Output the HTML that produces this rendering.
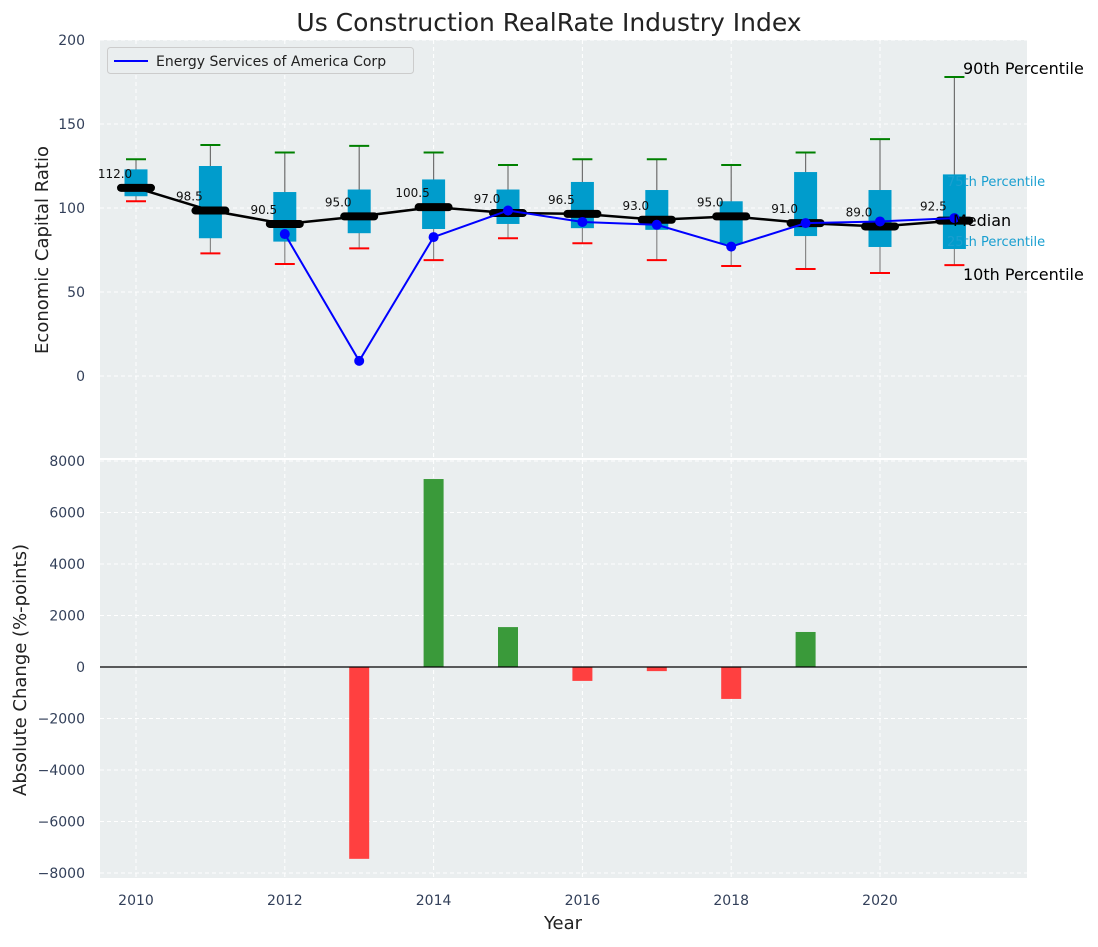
<!DOCTYPE html>
<html><head><meta charset="utf-8"><style>
body{margin:0;background:#fff;font-family:"Liberation Sans","DejaVu Sans",sans-serif}
svg text{font-family:"DejaVu Sans","Liberation Sans",sans-serif}
</style></head><body>
<svg id="c" width="1098" height="942" xmlns="http://www.w3.org/2000/svg"></svg>
<script>
const years=[2010,2011,2012,2013,2014,2015,2016,2017,2018,2019,2020,2021];
const p10=[104,73,66.7,76,69,82,79,69,65.5,63.7,61.3,66];
const q1=[107,82,80,85,87.5,90.5,88,87,78.6,83.3,76.8,75.6];
const med=[112,98.5,90.5,95,100.5,97,96.5,93,95,91,89,92.5];
const q3=[123,125,109.5,111,117,111,115.5,110.7,104,121.4,110.7,120];
const p90=[129,137.5,133,137,133,125.6,129,129,125.6,133,141,178];
const company=[null,null,84.5,9,82.7,98.5,91.7,90,77,91,92,94];
const changeYears=[2013,2014,2015,2016,2017,2018,2019];
const changes=[-7450,7300,1550,-540,-160,-1240,1360];
const topTicks=[0,50,100,150,200];
const botTicks=[-8000,-6000,-4000,-2000,0,2000,4000,6000,8000];
const xTicks=[2010,2012,2014,2016,2018,2020];

const svg=document.getElementById('c');
const NS='http://www.w3.org/2000/svg';
function el(t,a,p){const e=document.createElementNS(NS,t);for(const k in a)e.setAttribute(k,a[k]);(p||svg).appendChild(e);return e;}
const X=v=>136+(v-2010)*74.4;
const Y1=v=>376-v*1.68;
const Y2=v=>667-v*0.02575;
const L=100,R=1027;

let t=el('text',{x:549,y:31,'text-anchor':'middle','font-size':25,fill:'#222'});t.textContent='Us Construction RealRate Industry Index';



let bg1=el('rect',{x:L,y:40,width:R-L,height:418,fill:'#eaeeef'});


let bg2=el('rect',{x:L,y:460,width:R-L,height:418,fill:'#eaeeef'});



xTicks.forEach(v=>{
 el('line',{x1:X(v),x2:X(v),y1:40,y2:458,stroke:'#fff','stroke-dasharray':'4,3'});
 el('line',{x1:X(v),x2:X(v),y1:460,y2:878,stroke:'#fff','stroke-dasharray':'4,3'});
 const tx=el('text',{x:X(v),y:905,'text-anchor':'middle','font-size':14,fill:'#33405a'});tx.textContent=v;
 
 
});
topTicks.forEach(v=>{
 el('line',{x1:L,x2:R,y1:Y1(v),y2:Y1(v),stroke:'#fff','stroke-dasharray':'4,3'});
 const tx=el('text',{x:85,y:Y1(v)+5,'text-anchor':'end','font-size':14,fill:'#33405a'});tx.textContent=v;
 
 
});
botTicks.forEach(v=>{
 el('line',{x1:L,x2:R,y1:Y2(v),y2:Y2(v),stroke:'#fff','stroke-dasharray':'4,3'});
 const tx=el('text',{x:85,y:Y2(v)+5,'text-anchor':'end','font-size':14,fill:'#33405a'});tx.textContent=(v<0?'\u2212'+(-v):v);
 
 
});

years.forEach((yr,i)=>{
 const x=X(yr);
 const g=el('g',{});
 
 
 el('line',{x1:x,x2:x,y1:Y1(p90[i]),y2:Y1(p10[i]),stroke:'#888','stroke-width':1.2},g);
 el('rect',{x:x-11.5,y:Y1(q3[i]),width:23,height:Y1(q1[i])-Y1(q3[i]),fill:'#009ccc'},g);
 el('line',{x1:x,x2:x,y1:Y1(p90[i]),y2:Y1(q3[i]),stroke:'#555','stroke-width':1,opacity:0.5},g);
 el('line',{x1:x-10,x2:x+10,y1:Y1(p90[i]),y2:Y1(p90[i]),stroke:'#008000','stroke-width':2},g);
 el('line',{x1:x-10,x2:x+10,y1:Y1(p10[i]),y2:Y1(p10[i]),stroke:'#ff0000','stroke-width':2},g);
});
let mp=years.map((yr,i)=>X(yr)+','+Y1(med[i])).join(' ');
let ml=el('polyline',{points:mp,fill:'none',stroke:'#000','stroke-width':2.5});


years.forEach((yr,i)=>{
 const m=el('line',{x1:X(yr)-15,x2:X(yr)+15,y1:Y1(med[i]),y2:Y1(med[i]),stroke:'#000','stroke-width':8,'stroke-linecap':'round'});
 
 
 const tx=el('text',{x:X(yr)-21,y:Y1(med[i])-10,'text-anchor':'middle','font-size':12,fill:'#111'});tx.textContent=med[i].toFixed(1);
 
 
});
let cp=[];years.forEach((yr,i)=>{if(company[i]!=null)cp.push(X(yr)+','+Y1(company[i]));});
let cl=el('polyline',{points:cp.join(' '),fill:'none',stroke:'#0000ff','stroke-width':2});


years.forEach((yr,i)=>{if(company[i]==null)return;
 const c=el('circle',{cx:X(yr),cy:Y1(company[i]),r:5,fill:'#0000ff'});
 
 
});
[['90th Percentile',963,74,16,'#000'],['75th Percentile',947,186,13,'#1a9fd0'],['Median',953,226,16,'#000'],['25th Percentile',947,246,13,'#1a9fd0'],['10th Percentile',963,280,16,'#000']].forEach(a=>{
 const tx=el('text',{x:a[1],y:a[2],'font-size':a[3],fill:a[4]});tx.textContent=a[0];
 
 
});
const lg=el('g',{});


el('rect',{x:107.5,y:47.5,width:306,height:26,rx:3,fill:'#eaeeef',stroke:'#ccc'},lg);
el('line',{x1:114,x2:148,y1:61,y2:61,stroke:'#0000ff','stroke-width':2},lg);
t=el('text',{x:156,y:66,'font-size':14,fill:'#222'},lg);t.textContent='Energy Services of America Corp';

changeYears.forEach((yr,i)=>{
 const v=changes[i];
 const b=el('rect',{x:X(yr)-10,y:Math.min(Y2(v),Y2(0)),width:20,height:Math.abs(Y2(v)-Y2(0)),fill:v>=0?'#3a9a3a':'#ff4040'});
 
 
});
el('line',{x1:L,x2:R,y1:Y2(0),y2:Y2(0),stroke:'#000','stroke-width':1.2});

t=el('text',{x:0,y:0,'font-size':18,fill:'#222','text-anchor':'middle',transform:'translate(48,250) rotate(-90)'});t.textContent='Economic Capital Ratio';


t=el('text',{x:0,y:0,'font-size':18,fill:'#222','text-anchor':'middle',transform:'translate(26,670) rotate(-90)'});t.textContent='Absolute Change (%-points)';


t=el('text',{x:563,y:929,'font-size':18,fill:'#222','text-anchor':'middle'});t.textContent='Year';


</script>
</body></html>
